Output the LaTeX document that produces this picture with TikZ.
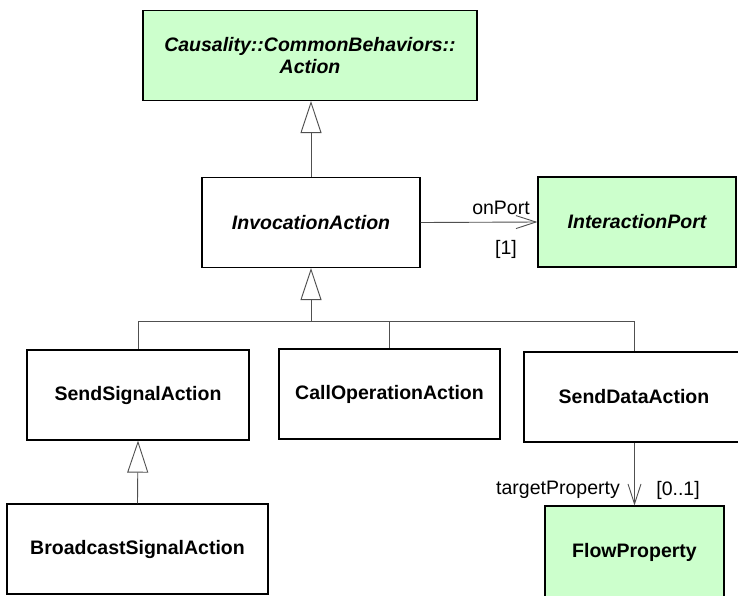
\documentclass[tikz,border=0pt]{standalone}
\usepackage{fontspec}
\setmainfont{Liberation Sans}
\usetikzlibrary{arrows.meta}
\definecolor{umlGreen}{RGB}{204,255,204}
\definecolor{lineGray}{RGB}{80,80,80}

\begin{document}
\begin{tikzpicture}[
    x=1pt, y=-1pt,
    umlclass/.style={rectangle, draw=black, line width=1.2pt, fill=white,
                     minimum height=90pt, inner sep=0pt, align=center,
                     font=\fontsize{19.5}{22}\selectfont\bfseries},
    abstract/.style={umlclass, font=\fontsize{19.5}{22}\selectfont\bfseries\itshape},
    lib/.style={fill=umlGreen},
    link/.style={draw=lineGray, line width=0.9pt},
    generalize/.style={link, -{Triangle[open, length=32pt, width=21pt, fill=white]}},
    assoc/.style={link, -{Straight Barb[length=20pt, width=13pt]}},
    role/.style={font=\fontsize{19.5}{22}\selectfont},
  ]
    \useasboundingbox (0,0) rectangle (738,595);

    % Abstract parents
    \node[abstract, lib, minimum width=334pt] (Action) at (310,55.5)
         {Causality::CommonBehaviors::\\Action};
    \node[abstract, minimum width=218pt] (Invocation) at (311,222.5) {InvocationAction};
    \node[abstract, lib, minimum width=198pt] (Port) at (637,222) {InteractionPort};

    % Concrete actions
    \node[umlclass, minimum width=222pt] (SendSignal) at (138,395) {SendSignalAction};
    \node[umlclass, minimum width=221pt] (CallOp) at (389.5,394) {CallOperationAction};
    \node[umlclass, minimum width=220pt] (SendData) at (634,397) {SendDataAction};
    \node[umlclass, minimum width=261pt] (Broadcast) at (137.5,549) {BroadcastSignalAction};
    \node[umlclass, lib, minimum width=179pt, minimum height=92pt] (Flow) at (634.5,552) {FlowProperty};

    % Generalizations
    \draw[generalize] (Invocation.north) -- (Invocation.north |- Action.south);
    \coordinate (busL) at (138,321);
    \coordinate (busR) at (634,321);
    \draw[generalize] (Invocation.south |- busL) -- (Invocation.south);
    \draw[link] (busL) -- (busR);
    \draw[link] (busL) -- (SendSignal.north);
    \draw[link] (CallOp.north |- busL) -- (CallOp.north);
    \draw[link] (busR) -- (SendData.north);
    \draw[generalize] (Broadcast.north) -- (SendSignal.south);

    % Associations
    \draw[assoc] (Invocation.east) -- (Port.west);
    \node[role] (onPortLbl) at (501,208) {onPort};
    \node[role] (portMult) at (506,249) {[1]};
    \draw[assoc] (SendData.south -| Flow.north) -- (Flow.north);
    \node[role] (targetLbl) at (558,490) {targetProperty};
    \node[role] (flowMult) at (678,490) {[0..1]};
  \end{tikzpicture}
\end{document}
